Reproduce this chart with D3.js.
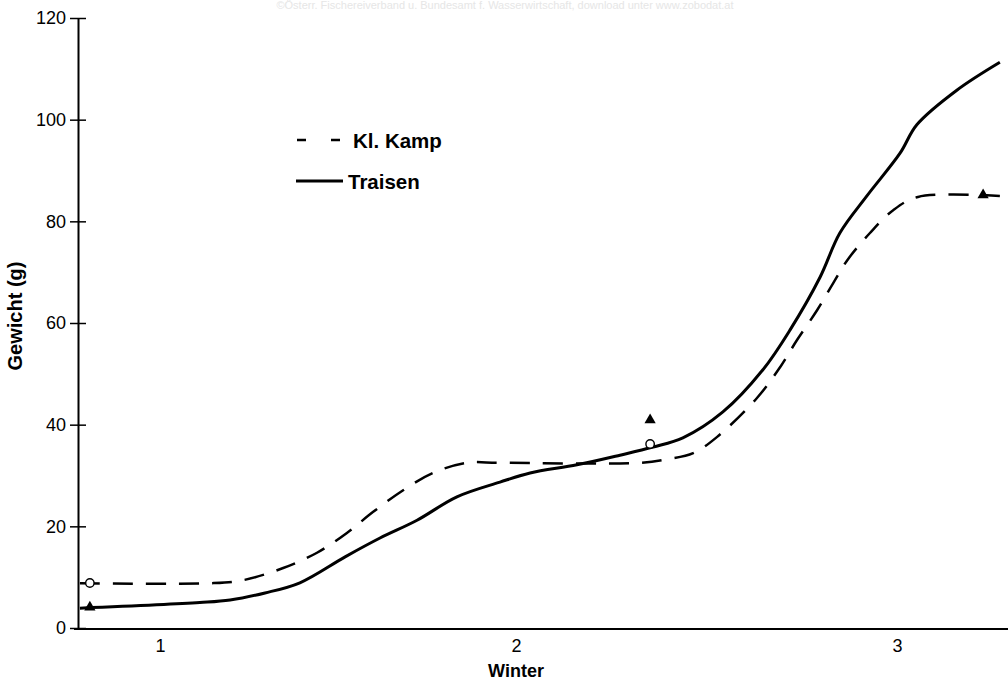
<!DOCTYPE html>
<html>
<head>
<meta charset="utf-8">
<script src="https://cdn.jsdelivr.net/npm/d3@7"></script>
<style>
  body { margin: 0; background: #fff; }
  svg { font-family: "Liberation Sans", Arial, sans-serif; }
</style>
</head>
<body>
<div id="chart"></div>
<script>
// winter (x) and Gewicht in g (y)
const kampWinter = [0.775, 1.140, 1.233, 1.346, 1.441, 1.525, 1.598, 1.683, 1.767, 1.862, 1.955, 2.325, 2.396, 2.465, 2.528, 2.633, 2.694, 2.738, 2.791, 2.833, 2.870, 2.929, 2.990, 3.055, 3.270]
const kampGewicht = [8.8, 8.8, 9.4, 11.8, 14.8, 18.7, 22.8, 27.1, 30.5, 32.5, 32.5, 32.5, 33.2, 34.4, 37.6, 45.3, 51.4, 56.7, 62.6, 67.9, 72.4, 77.7, 82.2, 84.8, 85.0]

const traisenWinter = [0.775, 1.112, 1.197, 1.295, 1.393, 1.520, 1.618, 1.722, 1.834, 1.955, 2.037, 2.160, 2.273, 2.360, 2.438, 2.543, 2.648, 2.719, 2.798, 2.850, 2.921, 3.008, 3.052, 3.157, 3.270]
const traisenGewicht = [3.9, 5.0, 5.5, 6.9, 8.9, 14.0, 17.7, 21.2, 25.8, 28.7, 30.5, 32.1, 34.0, 35.6, 37.4, 42.5, 50.8, 58.6, 69.0, 77.7, 85.0, 93.4, 99.0, 105.8, 111.3]

// single measured points
const circleWinter = [0.803, 2.352]
const circleGewicht = [8.85, 36.2]
const triangleWinter = [0.803, 2.352, 3.226]
const triangleGewicht = [4.1, 40.9, 85.2]

const xTicks = [1, 2, 3]
const yTicks = [0, 20, 40, 60, 80, 100, 120]

const svg = d3.select("#chart")
    .append("svg")
    .attr("width", 1008)
    .attr("height", 683)

// faint scan watermark at the top
svg.append("text")
    .attr("x", 505)
    .attr("y", 9)
    .attr("text-anchor", "middle")
    .attr("font-size", 11)
    .attr("fill", "#e6e6e6")
    .text("©Österr. Fischereiverband u. Bundesamt f. Wasserwirtschaft, download unter www.zobodat.at")

// scan is not quite even, so piecewise scale for x
const x = d3.scaleLinear()
    .domain([1, 2, 3])
    .range([160, 516, 897])

const y = d3.scaleLinear()
    .domain([0, 120])
    .range([628, 18])

// y axis
const yAxisCall = d3.axisLeft(y)
    .tickValues(yTicks)
    .tickSize(8)
    .tickSizeOuter(0)
    .tickPadding(4)
const yAxis = svg.append("g")
    .attr("transform", "translate(78, 0)")
    .call(yAxisCall)
yAxis.select(".domain").attr("stroke", "#000").attr("stroke-width", 2)
yAxis.selectAll(".tick line").attr("x1", 8).attr("stroke-width", 1.5)
yAxis.selectAll(".tick text")
    .attr("font-size", 18)
    .attr("fill", "#000")
    .attr("font-family", "Liberation Sans, Arial, sans-serif")

// x axis, no tick marks
const xAxisCall = d3.axisBottom(x)
    .tickValues(xTicks)
    .tickSize(0)
    .tickPadding(10)
    .tickFormat(d3.format("d"))
const xAxis = svg.append("g")
    .attr("transform", "translate(0, 629)")
    .call(xAxisCall)
xAxis.select(".domain").remove()
xAxis.append("line")
    .attr("x1", 74).attr("x2", 1008)
    .attr("stroke", "#000").attr("stroke-width", 2)
xAxis.selectAll(".tick text")
    .attr("font-size", 18)
    .attr("fill", "#000")
    .attr("font-family", "Liberation Sans, Arial, sans-serif")

// axis titles
svg.append("text")
    .attr("x", 516).attr("y", 677)
    .attr("text-anchor", "middle")
    .attr("font-size", 18).attr("font-weight", "bold")
    .text("Winter")

svg.append("text")
    .attr("transform", "translate(22, 316) rotate(-90)")
    .attr("text-anchor", "middle")
    .attr("font-size", 20).attr("font-weight", "bold")
    .text("Gewicht (g)")

// lines
const line = d3.line()
    .x(d => x(d[0]))
    .y(d => y(d[1]))
    .curve(d3.curveCatmullRom.alpha(0.5))

svg.append("path")
    .datum(d3.zip(kampWinter, kampGewicht))
    .attr("d", line)
    .attr("fill", "none")
    .attr("stroke", "#000")
    .attr("stroke-width", 2.5)
    .attr("stroke-dasharray", "20,13")

svg.append("path")
    .datum(d3.zip(traisenWinter, traisenGewicht))
    .attr("d", line)
    .attr("fill", "none")
    .attr("stroke", "#000")
    .attr("stroke-width", 3)

// markers
svg.selectAll(".tri")
    .data(d3.zip(triangleWinter, triangleGewicht))
    .enter().append("path")
    .attr("class", "tri")
    .attr("transform", d => `translate(${x(d[0])}, ${y(d[1])})`)
    .attr("d", d3.symbol().type(d3.symbolTriangle).size(55))
    .attr("fill", "#000")

svg.selectAll(".circ")
    .data(d3.zip(circleWinter, circleGewicht))
    .enter().append("circle")
    .attr("class", "circ")
    .attr("cx", d => x(d[0]))
    .attr("cy", d => y(d[1]))
    .attr("r", 4.2)
    .attr("fill", "#fff")
    .attr("stroke", "#000")
    .attr("stroke-width", 1.4)

// legend
const legend = svg.append("g")
legend.append("line")
    .attr("x1", 297).attr("x2", 341)
    .attr("y1", 140).attr("y2", 140)
    .attr("stroke", "#000").attr("stroke-width", 2.5)
    .attr("stroke-dasharray", "9,25")
legend.append("text")
    .attr("x", 353).attr("y", 148)
    .attr("font-size", 20.5).attr("font-weight", "bold")
    .text("Kl. Kamp")
legend.append("line")
    .attr("x1", 296).attr("x2", 343)
    .attr("y1", 181).attr("y2", 181)
    .attr("stroke", "#000").attr("stroke-width", 3)
legend.append("text")
    .attr("x", 348).attr("y", 189)
    .attr("font-size", 20.5).attr("font-weight", "bold")
    .text("Traisen")
</script>
</body>
</html>
